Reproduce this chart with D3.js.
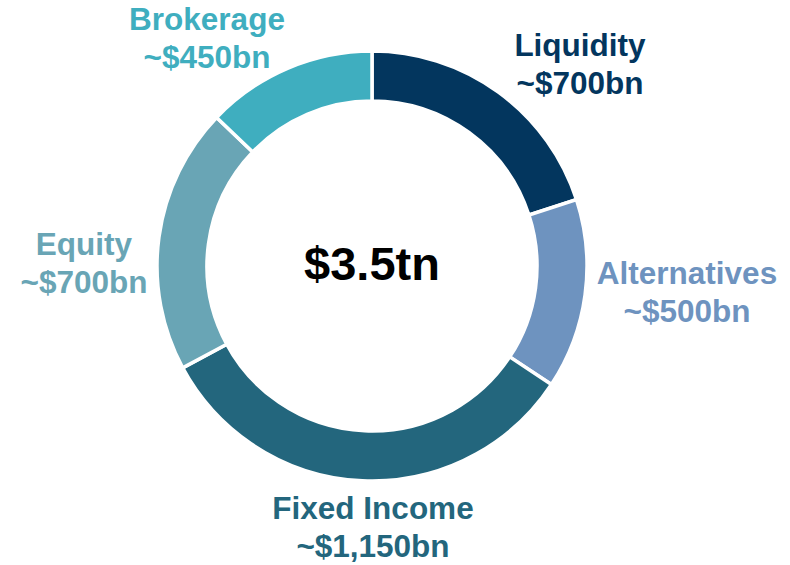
<!DOCTYPE html>
<html>
<head>
<meta charset="utf-8">
<script src="https://cdn.jsdelivr.net/npm/d3@7"></script>
<style>
  html, body { margin: 0; padding: 0; background: #fff; }
  svg { display: block; }
  text { font-family: "Liberation Sans", Arial, sans-serif; font-weight: bold; }
</style>
</head>
<body>
<svg id="chart" width="790" height="565"></svg>
<script>
// Data
const categories = ["Liquidity", "Alternatives", "Fixed Income", "Equity", "Brokerage"];
const values = [700, 500, 1150, 700, 450];
const valueLabels = ["~$700bn", "~$500bn", "~$1,150bn", "~$700bn", "~$450bn"];
const colors = ["#03365E", "#6E93BF", "#23667D", "#69A5B5", "#3FAEBF"];
const totalLabel = "$3.5tn";

// Layout (positions of labels, not data)
const cx = 372, cy = 266, rOuter = 215, rInner = 165;
const labelPos = [
  { x: 580, y: 56 },
  { x: 687, y: 284 },
  { x: 373, y: 519 },
  { x: 84, y: 255 },
  { x: 207, y: 30 }
];
const lineGap = 37.5;

const svg = d3.select("#chart");
const g = svg.append("g").attr("transform", `translate(${cx},${cy})`);

const pie = d3.pie().sort(null).value(d => d)(values);
const arc = d3.arc().innerRadius(rInner).outerRadius(rOuter);
const color = d3.scaleOrdinal().domain(categories).range(colors);

g.selectAll("path.slice")
  .data(pie)
  .join("path")
  .attr("class", "slice")
  .attr("d", arc)
  .attr("fill", (d, i) => color(categories[i]))
  .attr("stroke", "#fff")
  .attr("stroke-width", 3.5)
  .attr("stroke-linejoin", "miter");

g.append("text")
  .attr("x", 0)
  .attr("y", 279.5 - cy)
  .attr("text-anchor", "middle")
  .attr("font-size", 47)
  .attr("fill", "#000")
  .text(totalLabel);

const labels = svg.selectAll("text.lab")
  .data(categories)
  .join("text")
  .attr("class", "lab")
  .attr("text-anchor", "middle")
  .attr("font-size", 31.5)
  .attr("fill", (d) => color(d));

labels.append("tspan")
  .attr("x", (d, i) => labelPos[i].x)
  .attr("y", (d, i) => labelPos[i].y)
  .text(d => d);
labels.append("tspan")
  .attr("x", (d, i) => labelPos[i].x)
  .attr("y", (d, i) => labelPos[i].y + lineGap)
  .text((d, i) => valueLabels[i]);
</script>
</body>
</html>
